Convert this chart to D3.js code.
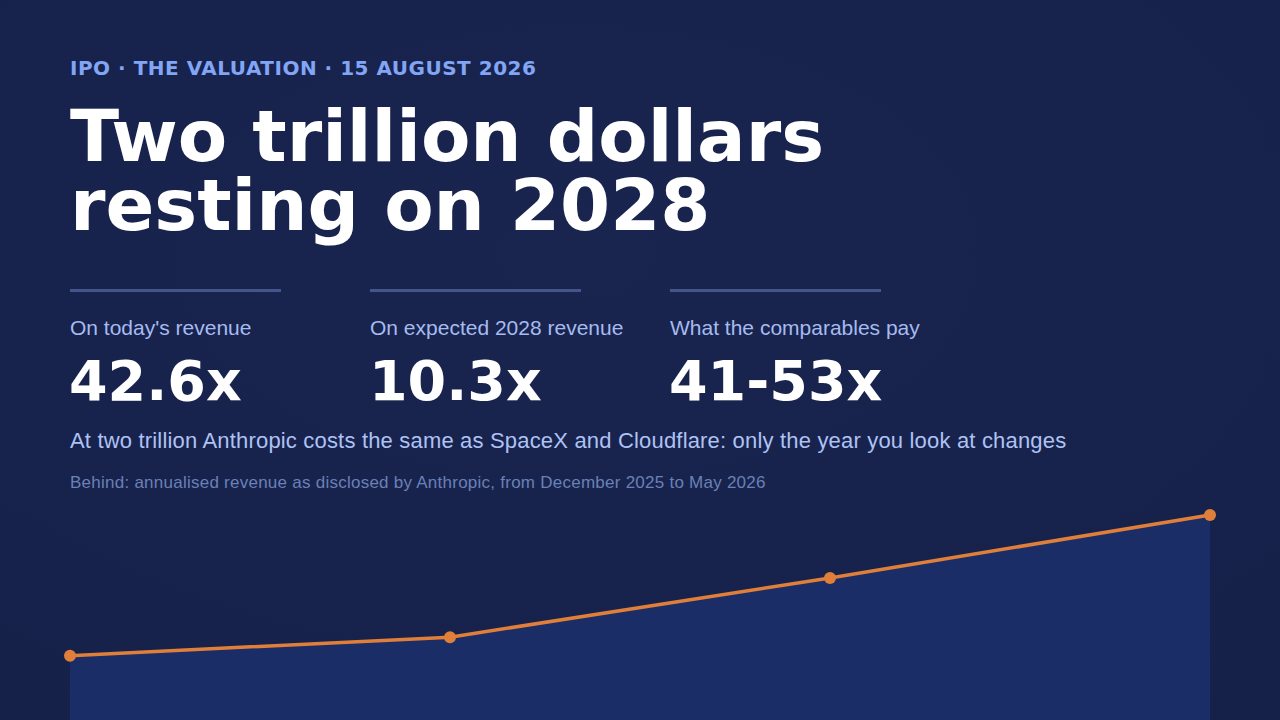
<!DOCTYPE html>
<html>
<head>
<meta charset="utf-8">
<script src="https://cdn.jsdelivr.net/npm/d3@7"></script>
<style>
  html, body { margin: 0; padding: 0; background: #17234e; }
  svg { display: block; }
</style>
</head>
<body>
<script>
var width = 1280,
    height = 720;

// annualised revenue, $bn
var months = ["Dec 2025", "Feb 2026", "Apr 2026", "May 2026"];
var revenue = [9, 14, 30, 47];

var statLabels = ["On today's revenue", "On expected 2028 revenue", "What the comparables pay"];
var statValues = ["42.6x", "10.3x", "41-53x"];

var svg = d3.select("body")
    .append("svg")
    .attr("width", width)
    .attr("height", height);

// background with a faint vignette
var defs = svg.append("defs");
var grad = defs.append("radialGradient")
    .attr("id", "bg")
    .attr("cx", "45%").attr("cy", "35%").attr("r", "80%");
grad.append("stop").attr("offset", "0%").attr("stop-color", "#19254f");
grad.append("stop").attr("offset", "100%").attr("stop-color", "#16214a");

svg.append("rect")
    .attr("width", width)
    .attr("height", height)
    .attr("fill", "url(#bg)");

// chart behind the text
var xScale = d3.scalePoint()
    .domain(months)
    .range([70, 1210]);

var yScale = d3.scaleLinear()
    .domain([0, d3.max(revenue)])
    .range([689, 515]);

var area = d3.area()
    .x(function(d, i) { return xScale(months[i]); })
    .y0(height)
    .y1(function(d) { return yScale(d); });

var line = d3.line()
    .x(function(d, i) { return xScale(months[i]); })
    .y(function(d) { return yScale(d); });

svg.append("path")
    .datum(revenue)
    .attr("d", area)
    .attr("fill", "#1a2d67");

svg.append("path")
    .datum(revenue)
    .attr("d", line)
    .attr("fill", "none")
    .attr("stroke", "#e07f3a")
    .attr("stroke-width", 3.5);

svg.selectAll("circle.pt")
    .data(revenue)
    .enter()
    .append("circle")
    .attr("class", "pt")
    .attr("cx", function(d, i) { return xScale(months[i]); })
    .attr("cy", function(d) { return yScale(d); })
    .attr("r", 6)
    .attr("fill", "#e07f3a");

// kicker
svg.append("text")
    .attr("x", 70)
    .attr("y", 75)
    .attr("font-family", "DejaVu Sans")
    .attr("font-weight", "bold")
    .attr("font-size", 20)
    .attr("letter-spacing", 0.5)
    .attr("fill", "#82a5f6")
    .text("IPO · THE VALUATION · 15 AUGUST 2026");

// headline, two lines
svg.append("text")
    .attr("x", 70)
    .attr("y", 161)
    .attr("font-family", "DejaVu Sans")
    .attr("font-weight", "bold")
    .attr("font-size", 72)
    .attr("fill", "#ffffff")
    .text("Two trillion dollars");

svg.append("text")
    .attr("x", 70)
    .attr("y", 230)
    .attr("font-family", "DejaVu Sans")
    .attr("font-weight", "bold")
    .attr("font-size", 72)
    .attr("fill", "#ffffff")
    .text("resting on 2028");

// three stats
var stat = svg.selectAll("g.stat")
    .data(statLabels)
    .enter()
    .append("g")
    .attr("class", "stat")
    .attr("transform", function(d, i) { return "translate(" + (70 + i * 300) + ",0)"; });

stat.append("line")
    .attr("x1", 0).attr("x2", 211)
    .attr("y1", 290.5).attr("y2", 290.5)
    .attr("stroke", "#44558a")
    .attr("stroke-width", 3);

stat.append("text")
    .attr("x", 0)
    .attr("y", 335)
    .attr("font-family", "Liberation Sans, Arial, sans-serif")
    .attr("font-size", 21)
    .attr("fill", "#a6bbef")
    .text(function(d) { return d; });

stat.append("text")
    .attr("x", -1)
    .attr("y", 400)
    .attr("font-family", "DejaVu Sans")
    .attr("font-weight", "bold")
    .attr("font-size", 55.5)
    .attr("fill", "#ffffff")
    .text(function(d, i) { return statValues[i]; });

// subtitle and note
svg.append("text")
    .attr("x", 70)
    .attr("y", 448)
    .attr("font-family", "Liberation Sans, Arial, sans-serif")
    .attr("font-size", 22)
    .attr("letter-spacing", 0.18)
    .attr("fill", "#aec2f4")
    .text("At two trillion Anthropic costs the same as SpaceX and Cloudflare: only the year you look at changes");

svg.append("text")
    .attr("x", 70)
    .attr("y", 488)
    .attr("font-family", "Liberation Sans, Arial, sans-serif")
    .attr("font-size", 17)
    .attr("letter-spacing", 0.25)
    .attr("fill", "#6a80b6")
    .text("Behind: annualised revenue as disclosed by Anthropic, from December 2025 to May 2026");
</script>
</body>
</html>
